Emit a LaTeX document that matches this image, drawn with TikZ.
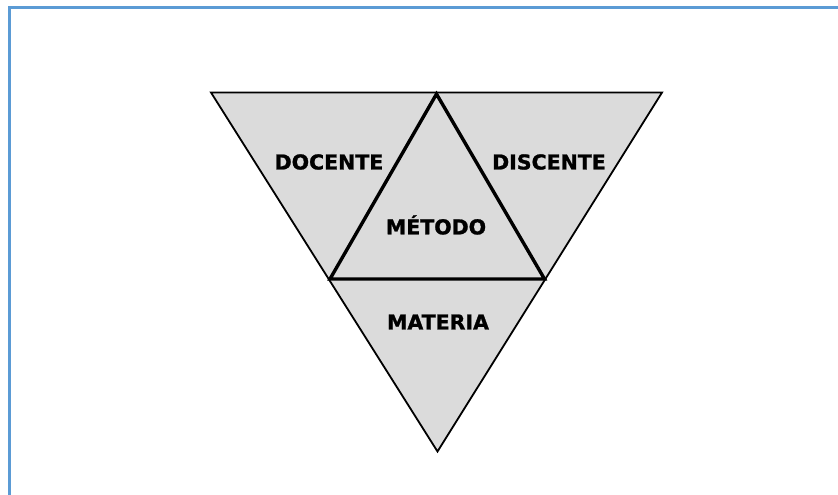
\documentclass[tikz,border=0pt]{standalone}
\usepackage{fontspec}
\setmainfont{DejaVu Sans}
\newfontfamily\lblfont{DejaVu Sans Bold}[FakeBold=1.2]
\begin{document}
\begin{tikzpicture}[x=1pt,y=-1pt,
  region/.style={fill=black!14,draw=black,line width=1.8pt,line join=miter},
  inner/.style={draw=black,line width=3.4pt,line join=miter},
  lbl/.style={font=\lblfont\bfseries\fontsize{20.5}{24}\selectfont,text=black,inner sep=0pt},
  frame/.style={line width=3pt}]
\useasboundingbox (0,0) rectangle (838,495);
\fill[white] (0,0) rectangle (838,495);
\draw[frame,draw={rgb,255:red,91;green,155;blue,213}] (9,495) -- (9,8) -- (838,8);
% vertices
\coordinate (TL) at (211,92.5);
\coordinate (TR) at (662,92.5);
\coordinate (B) at (437.5,451.5);
\coordinate (IT) at (436.5,94);
\coordinate (IL) at (330,279);
\coordinate (IR) at (544.5,279);
\draw[region] (TL) -- (TR) -- (B) -- cycle;
\draw[inner] (IT) -- (IL) -- (IR) -- cycle;
\node[lbl] (docente) at (329,162) {DOCENTE};
\node[lbl] (discente) at (549,162) {DISCENTE};
\node[lbl] (metodo) at (436,225) {MÉTODO};
\node[lbl] (materia) at (438,322) {MATERIA};
\end{tikzpicture}
\end{document}
